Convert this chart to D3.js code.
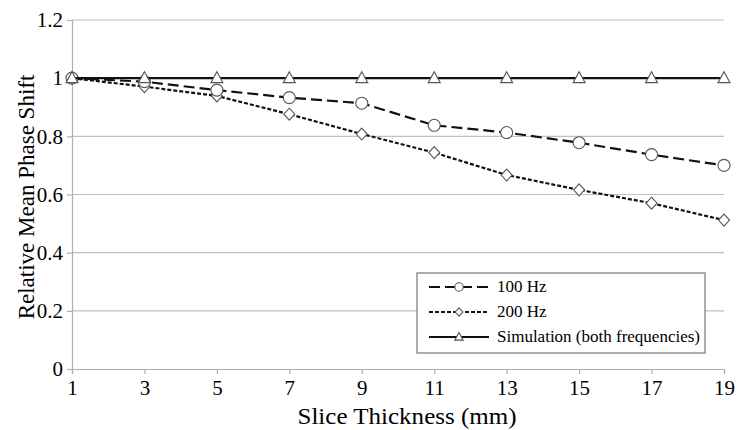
<!DOCTYPE html>
<meta charset="utf-8">
<script src="https://d3js.org/d3.v7.min.js"></script>
<style>
  body { margin: 0; background: #fff; }
</style>
<div id="chart"></div>
<script>
  // data
  var thickness = [1, 3, 5, 7, 9, 11, 13, 15, 17, 19];
  var hz100 = [1.0, 0.988, 0.959, 0.933, 0.914, 0.838, 0.813, 0.778, 0.737, 0.700];
  var hz200 = [1.0, 0.971, 0.939, 0.876, 0.808, 0.744, 0.667, 0.616, 0.570, 0.512];
  var simulation = [1, 1, 1, 1, 1, 1, 1, 1, 1, 1];
  var yTicks = [0, 0.2, 0.4, 0.6, 0.8, 1, 1.2];
  var seriesNames = ["100 Hz", "200 Hz", "Simulation (both frequencies)"];

  var FONT = "Liberation Serif";
  var W = 739, H = 430;
  var margin = { top: 20, right: 15, bottom: 61, left: 72 };
  var width = W - margin.left - margin.right,
      height = H - margin.top - margin.bottom;

  var svg = d3.select("#chart").append("svg")
    .attr("width", W).attr("height", H);
  var g = svg.append("g")
    .attr("transform", "translate(" + margin.left + "," + margin.top + ")");

  var x = d3.scaleLinear().domain([1, 19]).range([0, width]);
  var y = d3.scaleLinear().domain([0, 1.2]).range([height, 0]);

  // gridlines
  g.selectAll(".grid").data(yTicks.slice(1)).enter().append("line")
    .attr("x1", 0).attr("x2", width)
    .attr("y1", function (d) { return y(d); })
    .attr("y2", function (d) { return y(d); })
    .attr("stroke", "#bfbfbf").attr("stroke-width", 1.2);

  // y axis
  var yAxis = g.append("g")
    .call(d3.axisLeft(y).tickValues(yTicks).tickSize(5).tickPadding(4)
      .tickFormat(function (d) { return d3.format("~g")(d); }));
  yAxis.selectAll("line, path").attr("stroke", "#b0b0b0").attr("stroke-width", 1.2);
  yAxis.selectAll("text").style("font-family", FONT).attr("font-size", 21).attr("fill", "#000");

  // x axis
  var xAxis = g.append("g")
    .attr("transform", "translate(0," + height + ")")
    .call(d3.axisBottom(x).tickValues(thickness).tickSize(5).tickPadding(6));
  xAxis.selectAll("line, path").attr("stroke", "#b0b0b0").attr("stroke-width", 1.2);
  xAxis.selectAll("text").style("font-family", FONT).attr("font-size", 21).attr("fill", "#000");

  // axis titles
  svg.append("text")
    .style("font-family", FONT)
    .attr("x", 407).attr("y", 424)
    .attr("text-anchor", "middle")
    .attr("font-size", 23)
    .attr("textLength", 219).attr("lengthAdjust", "spacingAndGlyphs")
    .text("Slice Thickness (mm)");
  svg.append("text")
    .style("font-family", FONT)
    .attr("transform", "translate(34,197) rotate(-90)")
    .attr("text-anchor", "middle")
    .attr("font-size", 23)
    .text("Relative Mean Phase Shift");

  var series = [
    { name: seriesNames[0], values: hz100, dash: "11,5", marker: "circle" },
    { name: seriesNames[1], values: hz200, dash: "4,2", marker: "diamond" },
    { name: seriesNames[2], values: simulation, dash: null, marker: "triangle" }
  ];

  var line = d3.line()
    .x(function (d, i) { return x(thickness[i]); })
    .y(function (d) { return y(d); });

  function drawMarker(sel, type, scale) {
    var s = scale || 1;
    if (type === "circle") {
      sel.append("circle").attr("r", 6 * s);
    } else if (type === "diamond") {
      sel.append("path").attr("d", "M0," + (-6 * s) + "L" + (5.5 * s) + ",0L0," + (6 * s) + "L" + (-5.5 * s) + ",0Z");
    } else {
      sel.append("path").attr("d", "M0," + (-6.5 * s) + "L" + (6 * s) + "," + (4.5 * s) + "L" + (-6 * s) + "," + (4.5 * s) + "Z");
    }
    sel.selectAll("circle, path").attr("fill", "#fff").attr("stroke", "#555").attr("stroke-width", 1.1);
  }

  // draw simulation last so triangles sit on top, like the reference
  [series[1], series[0], series[2]].forEach(function (s) {
    g.append("path")
      .datum(s.values)
      .attr("fill", "none")
      .attr("stroke", "#111")
      .attr("stroke-width", 2.2)
      .attr("stroke-dasharray", s.dash)
      .attr("d", line);
    s.values.forEach(function (v, i) {
      var m = g.append("g").attr("transform", "translate(" + x(thickness[i]) + "," + y(v) + ")");
      drawMarker(m, s.marker);
    });
  });

  // legend
  var legend = svg.append("g").attr("transform", "translate(417,273)");
  legend.append("rect")
    .attr("width", 288).attr("height", 80)
    .attr("fill", "#fff").attr("stroke", "#777").attr("stroke-width", 1.2);
  series.forEach(function (s, i) {
    var row = legend.append("g").attr("transform", "translate(0," + (14 + i * 25) + ")");
    row.append("line")
      .attr("x1", 12).attr("x2", 72)
      .attr("stroke", "#111").attr("stroke-width", 2)
      .attr("stroke-dasharray", s.dash);
    var m = row.append("g").attr("transform", "translate(42,0)");
    drawMarker(m, s.marker, 0.7);
    row.append("text")
      .style("font-family", FONT)
      .attr("x", 80).attr("y", 5)
      .attr("font-size", 17)
      .text(s.name);
  });
</script>
